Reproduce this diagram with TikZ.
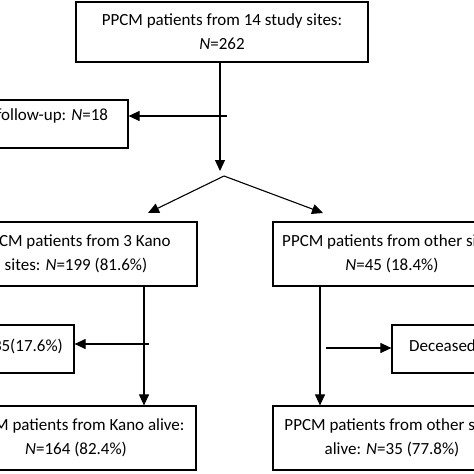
\documentclass[tikz,border=0pt]{standalone}
\usepackage{fontspec}
\setmainfont{Carlito}
\usetikzlibrary{arrows.meta}

\begin{document}
\begin{tikzpicture}[
  x=1pt, y=-1pt,
  every node/.style={font=\fontsize{17}{24}\selectfont},
  box/.style={draw, line width=1.2pt, align=center, inner sep=2pt},
  wide/.style={box, minimum width=240pt, minimum height=64pt},
  small/.style={box, minimum height=48pt},
  arrow/.style={-{Triangle[length=11pt,width=10pt]}, line width=1.1pt}
]
\useasboundingbox (0,0) rectangle (474,474);
\clip (0,0) rectangle (474,474);

% Top
\node[box, minimum width=292pt, minimum height=60pt] (all) at (222,32)
  {PPCM patients from 14 study sites:\\\textit{N}=262};
\node[small, minimum width=202pt, text height=12pt, text depth=20pt] (lost) at (27,124)
  {Lost to follow-up: \textit{N}=18};

% Sites
\node[wide, minimum width=242pt] (kano) at (76,254)
  {PPCM patients from 3 Kano\\sites: \textit{N}=199 (81.6\%)};
\node[wide, minimum width=238pt] (other) at (392,254)
  {PPCM patients from other sites:\\\textit{N}=45 (18.4\%)};

% Deceased
\node[small, minimum width=188pt, text height=12pt, text depth=8pt] (deadK) at (-20,349)
  {Deceased: \textit{N}=35(17.6\%)};
\node[small, minimum width=200pt, text height=12pt, text depth=8pt] (deadO) at (492,349)
  {Deceased: \textit{N}=10(22.2\%)};

% Alive
\node[wide] (aliveK) at (76,438)
  {PPCM patients from Kano alive:\\\textit{N}=164 (82.4\%)};
\node[wide, minimum width=238pt] (aliveO) at (392,438)
  {PPCM patients from other sites\\alive: \textit{N}=35 (77.8\%)};

% Helper points
\coordinate (split) at (220,171);
\coordinate (fork) at (224,176);
\coordinate (toK) at (148,213);
\coordinate (toO) at (323,213);
\coordinate (lostfrom) at (227,116);
\coordinate (colK) at (144,0);
\coordinate (colO) at (320,0);
\coordinate (deadKfrom) at (149,344);
\coordinate (deadOfrom) at (326,348);

% Arrows
\draw[arrow] (all.south -| split) -- (split);
\draw[arrow] (lostfrom) -- (lostfrom -| lost.east);
\draw[arrow] (fork) -- (toK);
\draw[arrow] (fork) -- (toO);
\draw[arrow] (kano.south -| colK) -- (aliveK.north -| colK);
\draw[arrow] (other.south -| colO) -- (aliveO.north -| colO);
\draw[arrow] (deadKfrom) -- (deadKfrom -| deadK.east);
\draw[arrow] (deadOfrom) -- (deadOfrom -| deadO.west);

\end{tikzpicture}
\end{document}
